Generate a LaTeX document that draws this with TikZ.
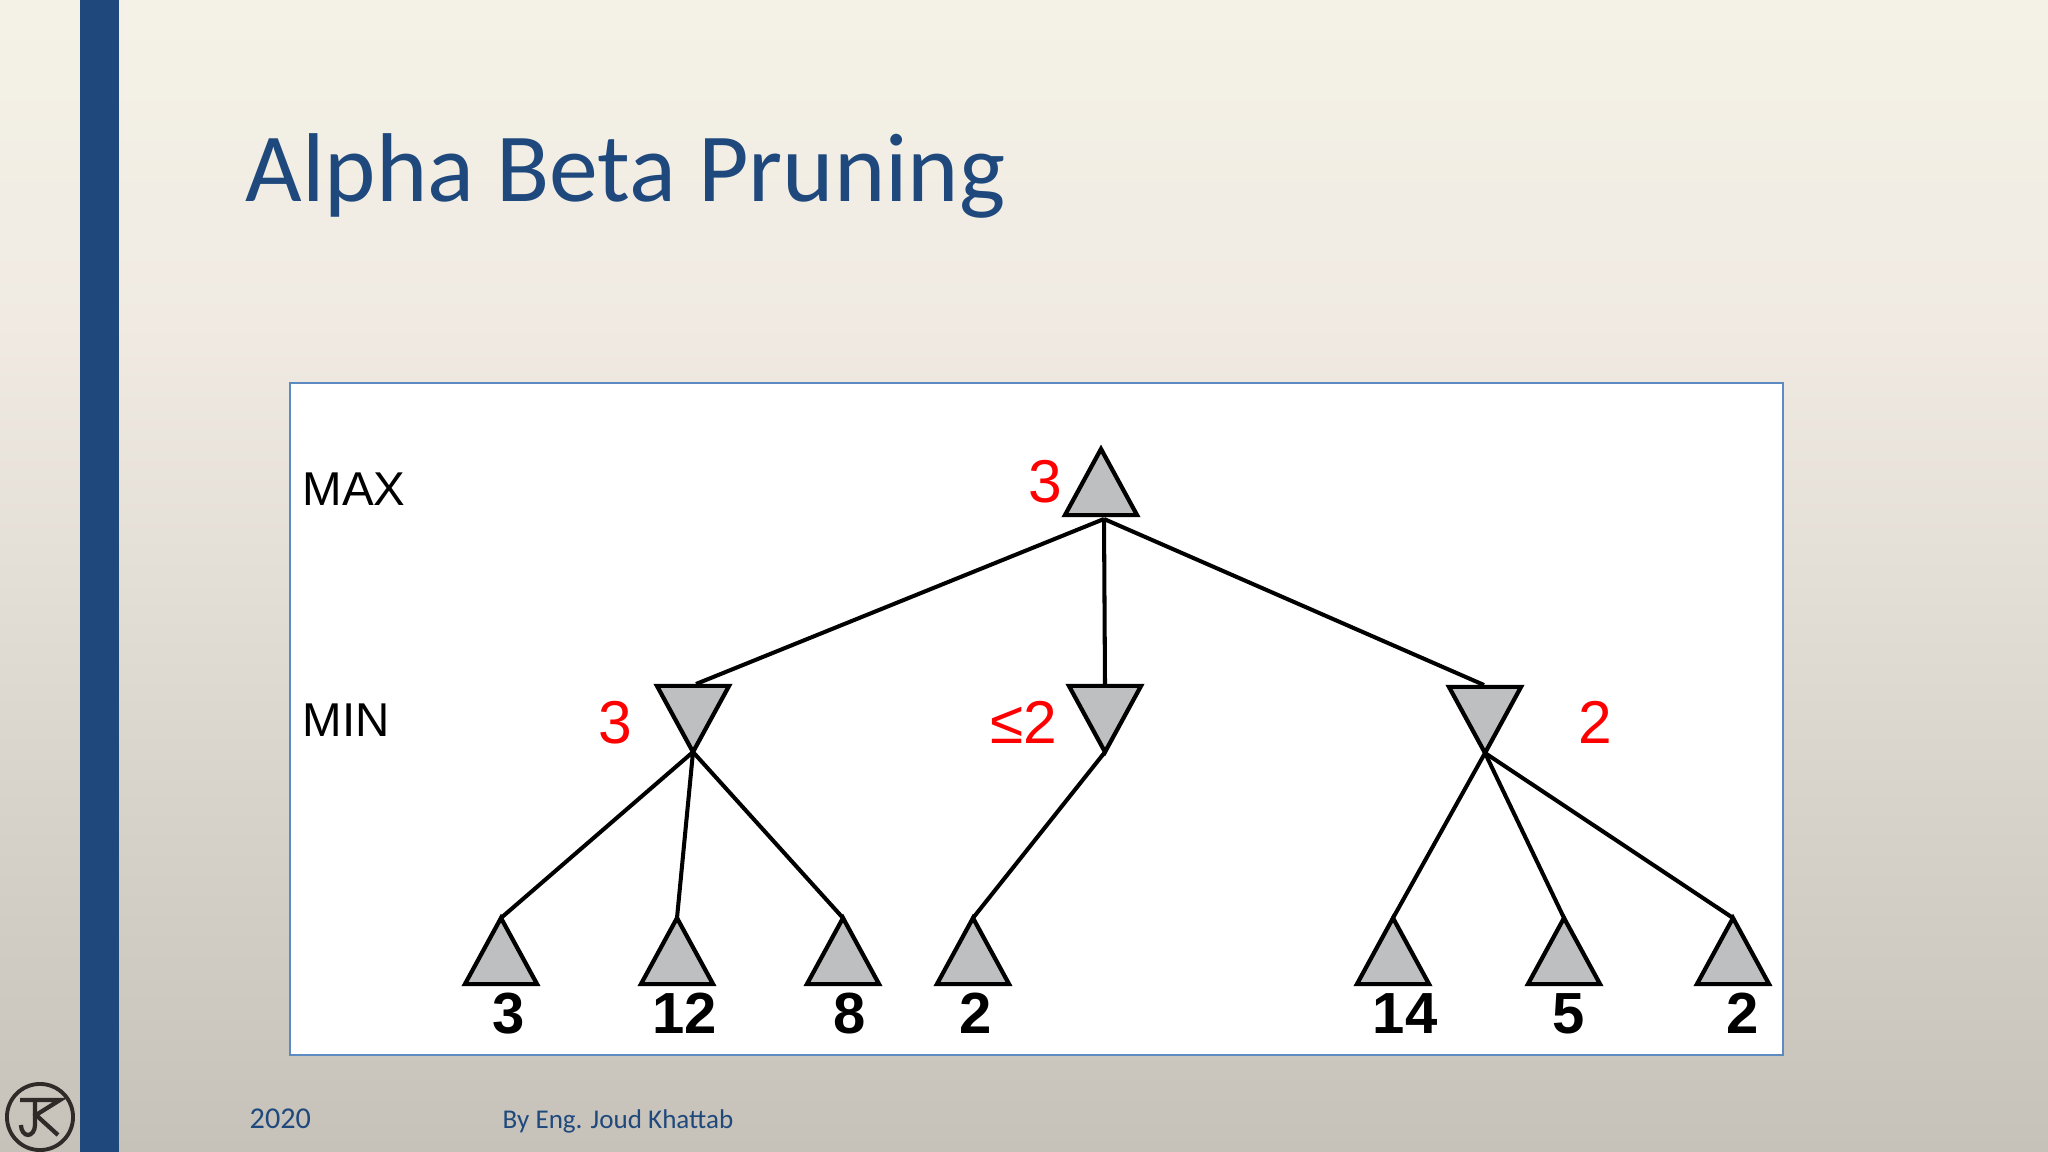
\documentclass[tikz,border=0pt]{standalone}
\usepackage{fontspec}
\usetikzlibrary{shapes.geometric}
\setmainfont{Liberation Sans}
\newfontfamily\slidefont{Carlito}
\definecolor{slideblue}{HTML}{1F497D}
\definecolor{panelblue}{HTML}{5B8BC0}
\definecolor{nodegray}{HTML}{BEBFC1}
\definecolor{logoink}{HTML}{2E2B28}
\definecolor{bgA}{HTML}{C6C2B9}
\definecolor{bgB}{HTML}{D4D0C7}
\definecolor{bgC}{HTML}{E3DED6}
\definecolor{bgD}{HTML}{F0EAE3}
\definecolor{bgE}{HTML}{F4F2E6}
\pgfdeclareverticalshading{slidebg}{100bp}{
  color(0bp)=(bgA);
  color(25bp)=(bgA);
  color(37.5bp)=(bgB);
  color(50bp)=(bgC);
  color(61bp)=(bgD);
  color(75bp)=(bgE);
  color(100bp)=(bgE)}
\tikzset{
  maxnode/.style={draw,line width=1.2pt,fill=nodegray,isosceles triangle,isosceles triangle stretches,
    shape border rotate=90,inner sep=0pt,outer sep=0pt,minimum height=18.8pt,minimum width=20.5pt,anchor=apex},
  minnode/.style={maxnode,shape border rotate=270},
  leaf/.style={font=\fontsize{16.5}{18}\selectfont\bfseries,anchor=base,inner sep=0pt},
  redval/.style={red,font=\fontsize{17.2}{18}\selectfont,anchor=base,inner sep=0pt},
  level/.style={font=\fontsize{13.5}{15}\selectfont,anchor=base west,inner sep=0pt},
  footer/.style={slideblue,font=\slidefont\fontsize{7.7}{9}\selectfont,anchor=base west,inner sep=0pt},
  branch/.style={line width=1.15pt}
}
\begin{document}
\begin{tikzpicture}[x=.01cm,y=-.01cm]
    \useasboundingbox (0,0) rectangle (2048,1152);
    % slide
    \shade[shading=slidebg] (0,0) rectangle (2048,1152);
    \fill[slideblue] (80,0) rectangle (119,1152);
    \node[slideblue,anchor=base west,inner sep=0pt,font=\slidefont\fontsize{27.8}{30}\selectfont] (title) at (245,202) {Alpha Beta Pruning};
    \draw[panelblue,fill=white,line width=.4pt] (290,383) rectangle (1783,1055);
    \node[footer,font=\slidefont\fontsize{8.6}{9}\selectfont] (year) at (249,1128) {2020};
    \node[footer] (author) at (502,1128) {By Eng. Joud Khattab};
    % logo
    \node[draw=logoink,line width=1.1pt,circle,inner sep=0pt,minimum size=18.8pt] (logo) at (40,1117) {};
    \draw[logoink,line width=1.2pt] (20,1100) -- (60,1100) -- (36,1115) -- (58,1135);
    \draw[logoink,line width=1.2pt] (35,1100) -- (35,1125) arc (0:180:7 and 10);
    % levels
    \node[level] (maxlabel) at (302,506) {MAX};
    \node[level] (minlabel) at (302,736) {MIN};
    % tree
    \node[maxnode] (root) at (1101,449) {};
    \node[minnode] (minA) at (693,752) {};
    \node[minnode] (minB) at (1105,752) {};
    \node[minnode] (minC) at (1485,753) {};
    \foreach \name/\x in {a/501, b/677, c/843, d/973, e/1393, f/1564, g/1733} {%
      \node[maxnode] (\name) at (\x,918) {};%
    };%
    \coordinate (rootfoot) at (1104,519);
    \coordinate (topA) at (696,684);
    \coordinate (topB) at (1105,684);
    \coordinate (topC) at (1484,685);
    \draw[branch] (rootfoot) -- (topA);
    \draw[branch] (rootfoot) -- (topB);
    \draw[branch] (rootfoot) -- (topC);
    \foreach \from/\to in {minA/a, minA/b, minA/c, minB/d, minC/e, minC/f, minC/g} {%
      \draw[branch] (\from.apex) -- (\to.apex);%
    };%
    % values
    \node[redval] (valroot) at (1045,502) {3};
    \node[redval] (valA) at (615,743) {3};
    \node[redval] (valB) at (1024,743) {≤2};
    \node[redval] (valC) at (1595,743) {2};
    \foreach \name/\x/\val in {la/509/3, lb/685/12, lc/850/8, ld/976/2, le/1405/14, lf/1569/5, lg/1743/2} {%
      \node[leaf] (\name) at (\x,1033) {\val};%
    };%
\end{tikzpicture}
\end{document}
